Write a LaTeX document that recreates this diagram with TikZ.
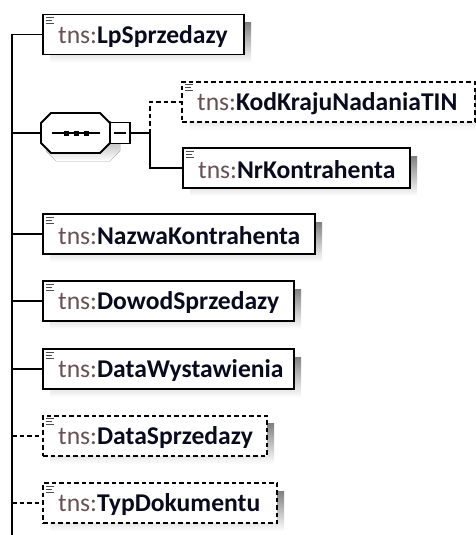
\documentclass[tikz,border=0pt]{standalone}
\usepackage{fontspec}
\setmainfont{Carlito}
\definecolor{tnsc}{RGB}{105,80,85}
\definecolor{shade}{RGB}{188,188,188}
\definecolor{namec}{RGB}{10,10,30}
\tikzset{
  x=1pt,y=-1pt,
  elem/.style={draw=black,line width=1.8pt,fill=white,minimum height=40pt,anchor=west,inner sep=0pt,align=left},
  optelem/.style={elem,line width=2pt,dash pattern=on 4.5pt off 3pt},
  conn/.style={line width=1.8pt,black},
  optconn/.style={conn,line width=2pt,dash pattern=on 4.5pt off 3pt},
  lbl/.style={anchor=west,inner sep=0pt},
}
\newcommand{\el}[1]{\fontsize{25.6}{27}\selectfont\textcolor{tnsc}{tns:}\textbf{\textcolor{namec}{#1}}}
\newcommand{\icon}[1]{\draw[line width=1pt,black!70] ([xshift=4pt,yshift=-4pt]#1.north west) -- ++(8,0) ([xshift=4pt,yshift=-7pt]#1.north west) -- ++(6,0) ([xshift=4pt,yshift=-10pt]#1.north west) -- ++(8,0);}
\begin{document}
\begin{tikzpicture}
\useasboundingbox (0,0) rectangle (475,535);
% shadows (drawn first)
\def\sh#1#2#3{\fill[shade] (#1+8,#2-20+8) rectangle (#1+#3+8,#2+20+8);}
\sh{42}{34.5}{201}
\sh{181}{101.5}{293}
\sh{182}{168}{227}
\sh{42}{234}{272}
\sh{42}{301}{251}
\sh{42}{369}{251}
\sh{42}{435.5}{224}
\sh{42}{503}{234}
\fill[shade] (56,121) -- (110,121) -- (120,131) -- (120,151) -- (110,161) -- (56,161) -- (46,151) -- (46,131) -- cycle;
% element boxes
\node[elem,minimum width=201pt] (lp) at (42,34.5) {};
\node[optelem,minimum width=293pt] (kod) at (181,101.5) {};
\node[elem,minimum width=227pt] (nr) at (182,168) {};
\node[elem,minimum width=272pt] (naz) at (42,234) {};
\node[elem,minimum width=251pt] (dow) at (42,301) {};
\node[elem,minimum width=251pt] (dat) at (42,369) {};
\node[optelem,minimum width=224pt] (dsp) at (42,435.5) {};
\node[optelem,minimum width=234pt] (typ) at (42,503) {};
% labels
\node[lbl] (tlp) at ([xshift=16pt,yshift=-2pt]lp.west) {\el{LpSprzedazy}};
\node[lbl] (tkod) at ([xshift=16pt,yshift=-2pt]kod.west) {\el{KodKrajuNadaniaTIN}};
\node[lbl] (tnr) at ([xshift=16pt,yshift=-2pt]nr.west) {\el{NrKontrahenta}};
\node[lbl] (tnaz) at ([xshift=16pt,yshift=-2pt]naz.west) {\el{NazwaKontrahenta}};
\node[lbl] (tdow) at ([xshift=16pt,yshift=-2pt]dow.west) {\el{DowodSprzedazy}};
\node[lbl] (tdat) at ([xshift=16pt,yshift=-2pt]dat.west) {\el{DataWystawienia}};
\node[lbl] (tdsp) at ([xshift=16pt,yshift=-2pt]dsp.west) {\el{DataSprzedazy}};
\node[lbl] (ttyp) at ([xshift=16pt,yshift=-2pt]typ.west) {\el{TypDokumentu}};
\foreach \n in {lp,kod,nr,naz,dow,dat,dsp,typ}{\icon{\n}}
% sequence compositor
\draw[line width=1.8pt,fill=white] (51,113) -- (100,113) -- (110,123) -- (110,143) -- (100,153) -- (51,153) -- (41,143) -- (41,123) -- cycle;
\coordinate (seqw) at (41,133);
\draw[line width=1.4pt] (52,133) -- (100,133);
\foreach \xx in {66,76,86} \fill (\xx-2.5,130.5) rectangle (\xx+2.5,135.5);
\node[draw,line width=1.8pt,fill=white,minimum width=20pt,minimum height=21pt,inner sep=0pt] (sq) at (120,133) {};
\draw[line width=1.4pt] (114,133) -- (126,133);
% connectors
\coordinate (top) at (12,34.5);
\coordinate (bot) at (12,535);
\draw[conn] (top) -- (bot);
\draw[conn] (top) -- (lp.west);
\draw[conn] (12,133) -- (seqw);
\draw[conn] (12,234) -- (naz.west);
\draw[conn] (12,301) -- (dow.west);
\draw[conn] (12,369) -- (dat.west);
\draw[optconn] (12,435.5) -- (dsp.west);
\draw[optconn] (12,503) -- (typ.west);
\coordinate (br) at (150,133);
\draw[conn] (sq.east) -- (br) |- (nr.west);
\draw[optconn] (br) |- (kod.west);
\end{tikzpicture}
\end{document}
